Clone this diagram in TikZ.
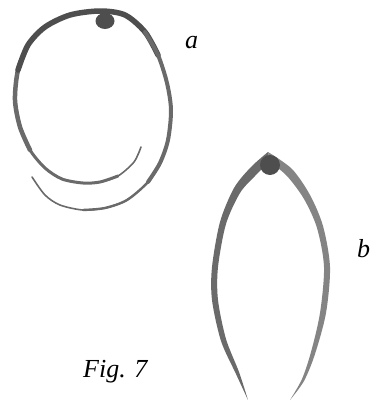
\documentclass[tikz,border=0pt]{standalone}
\usepackage{fontspec}
\setmainfont{Liberation Serif}
\definecolor{darkshell}{HTML}{4E4E4E}
\definecolor{midshell}{HTML}{6A6A6A}
\definecolor{paleshell}{HTML}{848484}
\tikzset{
  rim/.style={draw=midshell, line cap=round, line join=round},
  knob/.style={fill=darkshell},
  figlabel/.style={font=\fontsize{26}{30}\selectfont\itshape, inner sep=0pt, anchor=base west},
}
\begin{document}
\begin{tikzpicture}[x=1pt,y=-1pt]
    \useasboundingbox (0,0) rectangle (374,410);
    % ring a: one coil, inner end -> outer end
    \draw [rim,line width=1.6pt] plot[smooth] coordinates {(141,147) (134,162) (118,176) (100,182) (83,183) (62,179) (45,168) (30,150) (20,127) (15,100) (18,70) (28,45) (45,27) (70,15) (100,11) (125,15) (145,32) (158,55) (167,83) (171,110) (168,140) (160,163) (148,182) (127,200) (105,208) (83,210) (60,205) (45,195) (32,177)};
    \draw [rim,line width=3pt] plot[smooth] coordinates {(118,176) (100,182) (83,183) (62,179) (45,168) (30,150) (20,127) (15,100)};
    \draw [rim,line width=4.5pt] plot[smooth] coordinates {(30,150) (20,127) (15,100) (18,70) (28,45)};
    \draw [rim,draw=darkshell,line width=5.5pt] plot[smooth] coordinates {(18,70) (28,45) (45,27) (70,15) (100,11) (125,15) (145,32) (158,55)};
    \draw [rim,line width=4pt] plot[smooth] coordinates {(145,32) (158,55) (167,83) (171,110) (168,140) (160,163) (148,182)};
    \draw [rim,line width=2.4pt] plot[smooth] coordinates {(160,163) (148,182) (127,200) (105,208) (83,210)};
    \fill [knob] (105,21) ellipse (9.5 and 8);
    % lens b: two tapering arms meeting at the apex
    \fill [midshell] plot[smooth] coordinates {(268,152) (251,167) (234,188) (220,222) (212,267) (212,300) (221,341) (236,374) (248,400)}
        -- plot[smooth] coordinates {(248,400) (239,372) (226,339) (218,300) (218,267) (226,224) (240,193) (255,176) (270,161)} -- cycle;
    \fill [paleshell] plot[smooth] coordinates {(268,152) (292,169) (310,195) (323,226) (330,267) (326,313) (315,354) (304,381) (290,400)}
        -- plot[smooth] coordinates {(290,400) (302,379) (311,352) (320,313) (324,267) (317,228) (304,199) (287,176) (270,162)} -- cycle;
    \fill [knob] (270,165) circle (10);
    \node [figlabel] (a) at (185,48) {a};
    \node [figlabel] (b) at (357,257) {b};
    \node [figlabel] (fig) at (83,377) {Fig. 7};
\end{tikzpicture}
\end{document}
